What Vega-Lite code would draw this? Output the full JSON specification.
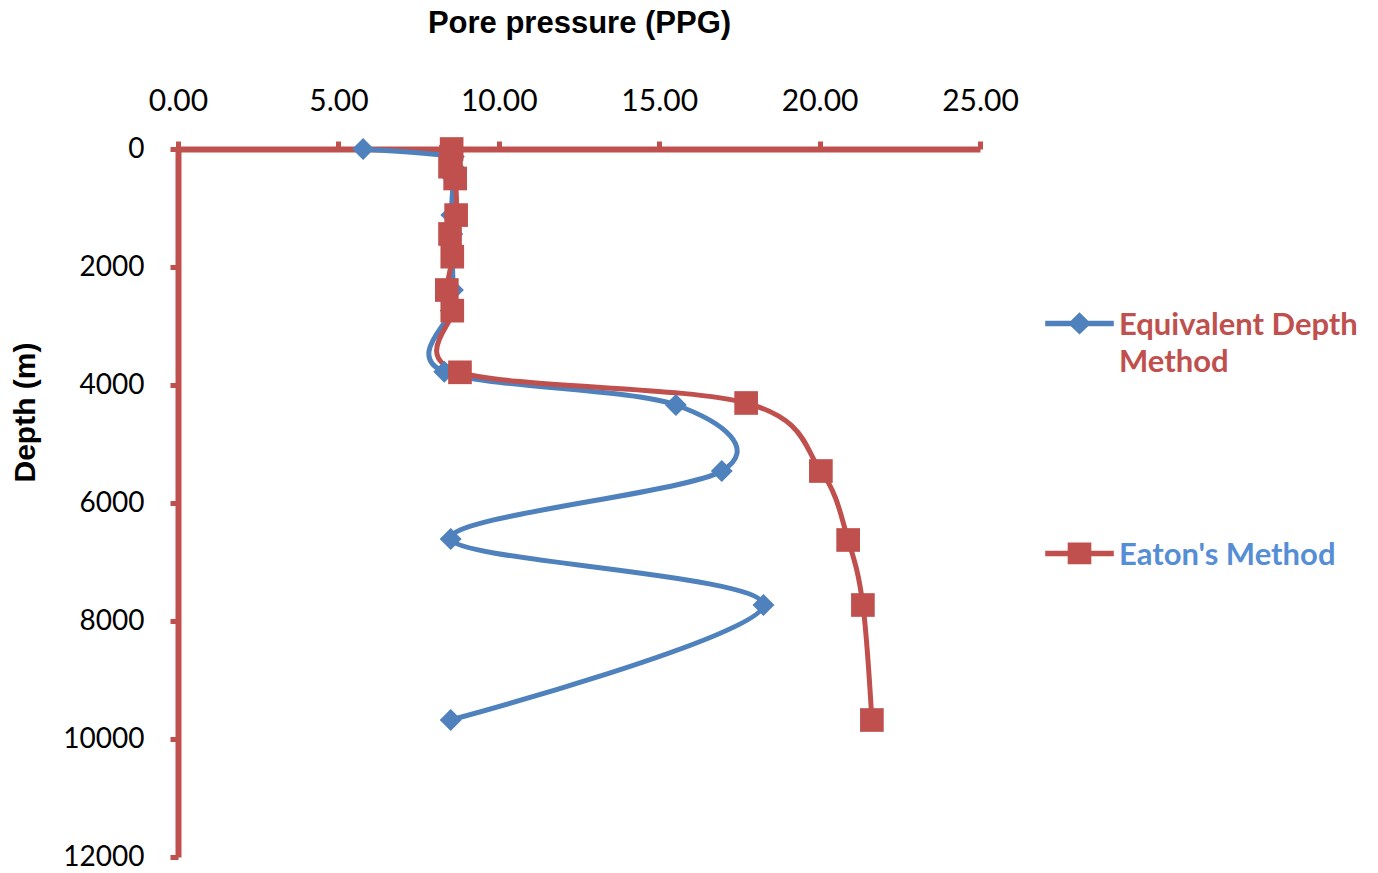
{
  "$schema": "https://vega.github.io/schema/vega-lite/v6.json",
  "width": 802,
  "height": 708,
  "autosize": "none",
  "padding": {"left": 178, "top": 149, "right": 398, "bottom": 16},
  "background": "white",
  "config": {"view": {"stroke": null}, "font": "Lato"},
  "data": {
    "values": [
      {"series": "Equivalent Depth Method", "depth": 0, "ppg": 5.77},
      {"series": "Equivalent Depth Method", "depth": 130, "ppg": 8.6},
      {"series": "Equivalent Depth Method", "depth": 300, "ppg": 8.58},
      {"series": "Equivalent Depth Method", "depth": 500, "ppg": 8.58},
      {"series": "Equivalent Depth Method", "depth": 1120, "ppg": 8.52},
      {"series": "Equivalent Depth Method", "depth": 1440, "ppg": 8.55},
      {"series": "Equivalent Depth Method", "depth": 1825, "ppg": 8.55},
      {"series": "Equivalent Depth Method", "depth": 2390, "ppg": 8.57},
      {"series": "Equivalent Depth Method", "depth": 2740, "ppg": 8.5},
      {"series": "Equivalent Depth Method", "depth": 3775, "ppg": 8.3},
      {"series": "Equivalent Depth Method", "depth": 4339, "ppg": 15.52},
      {"series": "Equivalent Depth Method", "depth": 5458, "ppg": 16.95},
      {"series": "Equivalent Depth Method", "depth": 6610, "ppg": 8.5},
      {"series": "Equivalent Depth Method", "depth": 7729, "ppg": 18.25},
      {"series": "Equivalent Depth Method", "depth": 9678, "ppg": 8.5},
      {"series": "Eaton's Method", "depth": 0, "ppg": 8.53},
      {"series": "Eaton's Method", "depth": 130, "ppg": 8.51},
      {"series": "Eaton's Method", "depth": 300, "ppg": 8.48},
      {"series": "Eaton's Method", "depth": 500, "ppg": 8.64},
      {"series": "Eaton's Method", "depth": 1120, "ppg": 8.67},
      {"series": "Eaton's Method", "depth": 1440, "ppg": 8.48},
      {"series": "Eaton's Method", "depth": 1825, "ppg": 8.55},
      {"series": "Eaton's Method", "depth": 2390, "ppg": 8.38},
      {"series": "Eaton's Method", "depth": 2740, "ppg": 8.55},
      {"series": "Eaton's Method", "depth": 3785, "ppg": 8.79},
      {"series": "Eaton's Method", "depth": 4305, "ppg": 17.71},
      {"series": "Eaton's Method", "depth": 5458, "ppg": 20.04},
      {"series": "Eaton's Method", "depth": 6627, "ppg": 20.89},
      {"series": "Eaton's Method", "depth": 7729, "ppg": 21.35},
      {"series": "Eaton's Method", "depth": 9678, "ppg": 21.63}
    ]
  },
  "encoding": {
    "x": {
      "field": "ppg", "type": "quantitative",
      "scale": {"domain": [0, 25], "nice": false, "zero": false},
      "axis": {
        "orient": "top", "values": [0, 5, 10, 15, 20, 25], "format": ".2f",
        "title": "Pore pressure (PPG)", "titleFont": "Liberation Sans", "titleFontSize": 31,
        "titleFontWeight": "bold", "titleColor": "black", "titleBaseline": "alphabetic", "titleY": -117,
        "labelFont": "Lato", "labelFontSize": 30, "labelColor": "black", "labelBaseline": "alphabetic",
        "labelPadding": 31, "labelFlush": false, "labelOverlap": false,
        "tickSize": 8, "tickColor": "#C0504D", "tickWidth": 5,
        "domainColor": "#C0504D", "domainWidth": 6, "grid": false
      }
    },
    "y": {
      "field": "depth", "type": "quantitative",
      "scale": {"domain": [0, 12000], "reverse": true, "nice": false, "zero": false},
      "axis": {
        "values": [0, 2000, 4000, 6000, 8000, 10000, 12000], "format": "d",
        "title": "Depth (m)", "titleFont": "Liberation Sans", "titleFontSize": 30,
        "titleFontWeight": "bold", "titleColor": "black", "titleBaseline": "alphabetic",
        "titleAngle": -90, "titleAlign": "center", "titleX": -144, "titleY": 263,
        "labelFont": "Lato", "labelFontSize": 28, "labelColor": "black", "labelPadding": 26,
        "labelFlush": false, "labelOverlap": false,
        "tickSize": 8, "tickColor": "#C0504D", "tickWidth": 5,
        "domainColor": "#C0504D", "domainWidth": 6, "grid": false
      }
    },
    "color": {
      "field": "series", "type": "nominal",
      "scale": {"domain": ["Equivalent Depth Method", "Eaton's Method"], "range": ["#4F81BD", "#C0504D"]},
      "legend": {
        "title": null, "orient": "none", "legendX": 867, "legendY": 151, "padding": 0,
        "symbolSize": 4500, "labelFont": "Lato", "labelFontSize": 31, "labelFontWeight": "bold",
        "labelLimit": 0, "labelOffset": 5, "labelBaseline": "alphabetic", "rowPadding": 152,
        "labelExpr": "datum.label == 'Equivalent Depth Method' ? ['Equivalent Depth', 'Method'] : datum.label",
        "encode": {
          "symbols": {"update": {
            "fill": {"scale": "color", "field": "value"},
            "stroke": {"value": "transparent"},
            "opacity": {"value": 1},
            "size": {"value": 4500},
            "shape": {"signal": "datum.value == \"Eaton's Method\" ? 'M-1,-0.39H-0.33V-0.63H0.33V-0.39H1V-0.27H0.33V-0.03H-0.33V-0.27H-1Z' : 'M-1,-0.39H-0.25L0,-0.63L0.25,-0.39H1V-0.27H0.25L0,-0.03L-0.25,-0.27H-1Z'"}
          }},
          "labels": {"update": {
            "fill": {"signal": "datum.value == \"Eaton's Method\" ? '#558ED5' : '#C0504D'"},
            "lineHeight": {"value": 37}
          }}
        }
      }
    },
    "order": {"field": "depth", "type": "quantitative"}
  },
  "layer": [
    {"mark": {"type": "line", "interpolate": "cardinal", "strokeWidth": 5}},
    {
      "transform": [{"filter": "datum.series == 'Equivalent Depth Method'"}],
      "mark": {"type": "point", "filled": true, "opacity": 1, "shape": "diamond", "size": 480}
    },
    {
      "transform": [{"filter": "datum.series != 'Equivalent Depth Method'"}],
      "mark": {"type": "point", "filled": true, "opacity": 1, "shape": "square", "size": 560}
    }
  ]
}
